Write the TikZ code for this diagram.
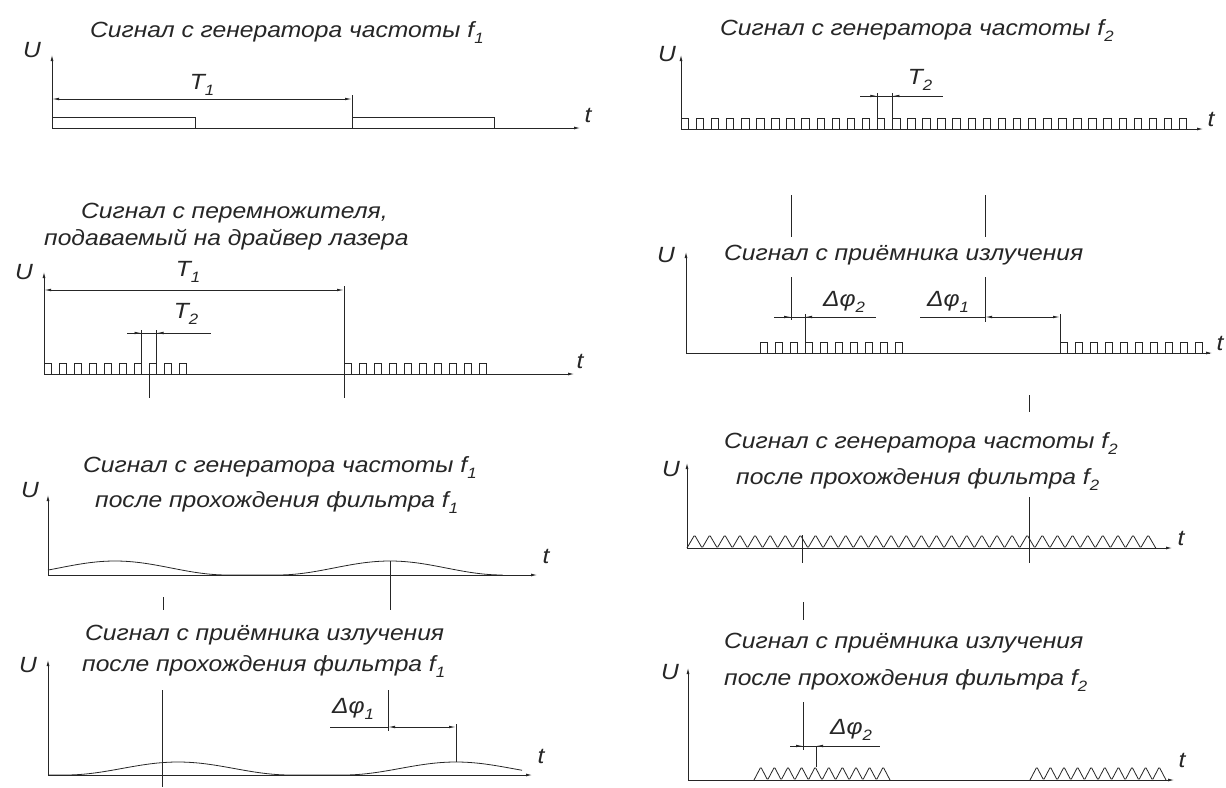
\documentclass[tikz,border=0pt]{standalone}
\usepackage{fontspec}
\setmainfont{Liberation Sans}[FakeStretch=1.12]
\usetikzlibrary{arrows.meta}
\newcommand{\sbs}[1]{\raisebox{-0.3em}{\fontsize{15}{15}\selectfont #1}}
\tikzset{
  ln/.style={line width=0.8pt, draw=black!85},
  ax/.style={ln, -{Latex[length=6pt,width=3pt]}},
  dimarr/.style={ln, -{Latex[length=7pt,width=2.6pt]}},
  dimboth/.style={ln, {Latex[length=7pt,width=2.6pt]}-{Latex[length=7pt,width=2.6pt]}},
  ttl/.style={anchor=base west, inner sep=0pt, font=\fontsize{22}{26}\selectfont\itshape, text=black!85},
  lbl/.style={inner sep=0pt, font=\fontsize{22}{26}\selectfont\itshape, text=black!85},
}
\begin{document}
\begin{tikzpicture}[x=1pt,y=-1pt]
\useasboundingbox (0,0) rectangle (1226,787);
\fill[white] (0,0) rectangle (1226,787);

% ================= LEFT ROW 1 =================
\node[ttl] (tL1) at (90,37) {Сигнал с генератора частоты f\sbs{1}};
\node[lbl] (uL1) at (32,50) {U};
\node[lbl] (xL1) at (588,115) {t};
\draw[ax] (52,128) -- (52,55);
\draw[ax] (52,128) -- (580,128);
\draw[ln] (52,117) -- (195,117) -- (195,128);
\draw[ln] (352,128) -- (352,95);
\draw[ln] (352,117) -- (494,117) -- (494,128);
\draw[dimboth] (52,99) -- (352,99);
\node[lbl] (T1a) at (202,85) {T\sbs{1}};

% ================= RIGHT ROW 1 =================
\node[ttl] (tR1) at (720,35) {Сигнал с генератора частоты f\sbs{2}};
\node[lbl] (uR1) at (667,54) {U};
\node[lbl] (xR1) at (1211,119) {t};
\draw[ax] (681,129) -- (681,55);
\draw[ax] (681,129) -- (1203,129);
\draw[ln] (681,129) \foreach \i in {0,...,33} { -- ++(0,-11) -- ++(7.5,0) -- ++(0,11) -- ++(7.6,0) };
\draw[ln] (877.3,118) -- (877.3,93);
\draw[ln] (892.4,118) -- (892.4,93);
\draw[ln] (860,96) -- (943,96);
\draw[dimarr] (862,96) -- (877.3,96);
\draw[dimarr] (941,96) -- (892.4,96);
\node[lbl] (T2a) at (920,80) {T\sbs{2}};

% ================= LEFT ROW 2 =================
\node[ttl] (tL2a) at (81,218) {Сигнал с перемножителя,};
\node[ttl] (tL2b) at (44,245) {подаваемый на драйвер лазера};
\node[lbl] (uL2) at (24,272) {U};
\node[lbl] (xL2) at (580,361) {t};
\draw[ax] (44,374) -- (44,272);
\draw[ax] (44,374) -- (574,374);
\draw[ln] (44,374) \foreach \i in {0,...,9} { -- ++(0,-11) -- ++(7.5,0) -- ++(0,11) -- ++(7.5,0) };
\draw[ln] (344,374) \foreach \i in {0,...,9} { -- ++(0,-11) -- ++(7.5,0) -- ++(0,11) -- ++(7.5,0) };
\draw[dimboth] (44,290) -- (344,290);
\draw[ln] (344,286) -- (344,398);
\node[lbl] (T1b) at (188,272) {T\sbs{1}};
\draw[ln] (141.5,363) -- (141.5,330);
\draw[ln] (156.5,363) -- (156.5,330);
\draw[ln] (127,333) -- (211,333);
\draw[dimarr] (127,333) -- (141.5,333);
\draw[dimarr] (171,333) -- (156.5,333);
\draw[ln] (149,363) -- (149,398);
\node[lbl] (T2b) at (186,314) {T\sbs{2}};

% ================= RIGHT ROW 2 =================
\draw[ln] (791,195) -- (791,237);
\draw[ln] (985,195) -- (985,237);
\node[ttl] (tR2) at (724,260) {Сигнал с приёмника излучения};
\node[lbl] (uR2) at (666,255) {U};
\node[lbl] (xR2) at (1220,343) {t};
\draw[ax] (686,353) -- (686,252);
\draw[ax] (686,353) -- (1212,353);
\draw[ln] (760,353) \foreach \i in {0,...,9} { -- ++(0,-11) -- ++(7.5,0) -- ++(0,11) -- ++(7.5,0) };
\draw[ln] (1060,353) \foreach \i in {0,...,9} { -- ++(0,-11) -- ++(7.5,0) -- ++(0,11) -- ++(7.5,0) };
\draw[ln] (791,277) -- (791,320);
\draw[ln] (985,277) -- (985,322);
\draw[ln] (805,353) -- (805,314);
\draw[ln] (1060,342) -- (1060,314);
\draw[ln] (774,317) -- (876,317);
\draw[dimarr] (776,317) -- (791,317);
\draw[dimarr] (820,317) -- (805,317);
\node[lbl] (dp2a) at (844,302) {Δφ\sbs{2}};
\draw[ln] (920,317) -- (985,317);
\draw[dimboth] (985,317) -- (1060,317);
\node[lbl] (dp1a) at (948,302) {Δφ\sbs{1}};
\draw[ln] (1029,395) -- (1029,412);

% ================= LEFT ROW 3 =================
\node[ttl] (tL3a) at (83,472) {Сигнал с генератора частоты f\sbs{1}};
\node[ttl] (tL3b) at (95,507) {после прохождения фильтра f\sbs{1}};
\node[lbl] (uL3) at (30,490) {U};
\node[lbl] (xL3) at (546,556) {t};
\draw[ax] (48,575) -- (48,495);
\draw[ax] (48,575) -- (537,575);
\draw[ln] plot[domain=48:227.5, samples=60] (\x, {575-14*sin(0.8*(\x-2.5))*sin(0.8*(\x-2.5))})
  -- (277.5,575)
  -- plot[domain=277.5:502.5, samples=60] (\x, {575-14*sin(0.8*(\x-277.5))*sin(0.8*(\x-277.5))});
\draw[ln] (390,561) -- (390,610);
\draw[ln] (163,597) -- (163,610);

% ================= RIGHT ROW 3 =================
\node[ttl] (tR3a) at (724,448) {Сигнал с генератора частоты f\sbs{2}};
\node[ttl] (tR3b) at (736,484) {после прохождения фильтра f\sbs{2}};
\node[lbl] (uR3) at (671,469) {U};
\node[lbl] (xR3) at (1181,538) {t};
\draw[ax] (687,548) -- (687,463);
\draw[ax] (687,548) -- (1172,548);
\draw[ln, rounded corners=1.2pt] (687,548) \foreach \i in {0,...,30} { -- ++(7.56,-13) -- ++(7.56,13) };
\draw[ln] (1029,497) -- (1029,563);
\draw[ln] (802,535) -- (802,563);

% ================= LEFT ROW 4 =================
\node[ttl] (tL4a) at (85,640) {Сигнал с приёмника излучения};
\node[ttl] (tL4b) at (82,671) {после прохождения фильтра f\sbs{1}};
\node[lbl] (uL4) at (28,665) {U};
\node[lbl] (xL4) at (541,756) {t};
\draw[ax] (48,775) -- (48,660);
\draw[ax] (48,775) -- (532,775);
\draw[ln] (48,775) -- (65.5,775)
  -- plot[domain=65.5:290.5, samples=60] (\x, {775-13*sin(0.8*(\x-65.5))*sin(0.8*(\x-65.5))})
  -- (343.5,775)
  -- plot[domain=343.5:522, samples=60] (\x, {775-13*sin(0.8*(\x-343.5))*sin(0.8*(\x-343.5))});
\draw[ln] (162,690) -- (162,787);
\draw[ln] (388,690) -- (388,731);
\draw[ln] (456,724) -- (456,762);
\draw[ln] (330,727) -- (388,727);
\draw[dimboth] (388,727) -- (456,727);
\node[lbl] (dp1b) at (353,709) {Δφ\sbs{1}};

% ================= RIGHT ROW 4 =================
\draw[ln] (803,602) -- (803,620);
\node[ttl] (tR4a) at (724,648) {Сигнал с приёмника излучения};
\node[ttl] (tR4b) at (724,685) {после прохождения фильтра f\sbs{2}};
\node[lbl] (uR4) at (670,672) {U};
\node[lbl] (xR4) at (1182,760) {t};
\draw[ax] (688,780) -- (688,668);
\draw[ax] (688,780) -- (1174,780);
\draw[ln, rounded corners=1.2pt] (754,780) \foreach \i in {0,...,9} { -- ++(6.8,-13) -- ++(6.8,13) };
\draw[ln, rounded corners=1.2pt] (1030,780) \foreach \i in {0,...,9} { -- ++(6.8,-13) -- ++(6.8,13) };
\draw[ln] (803,702) -- (803,750);
\draw[ln] (816,746) -- (816,767);
\draw[ln] (790,746) -- (880,746);
\draw[dimarr] (790,746) -- (803,746);
\draw[dimarr] (830,746) -- (816,746);
\node[lbl] (dp2b) at (851,730) {Δφ\sbs{2}};
\end{tikzpicture}
\end{document}
